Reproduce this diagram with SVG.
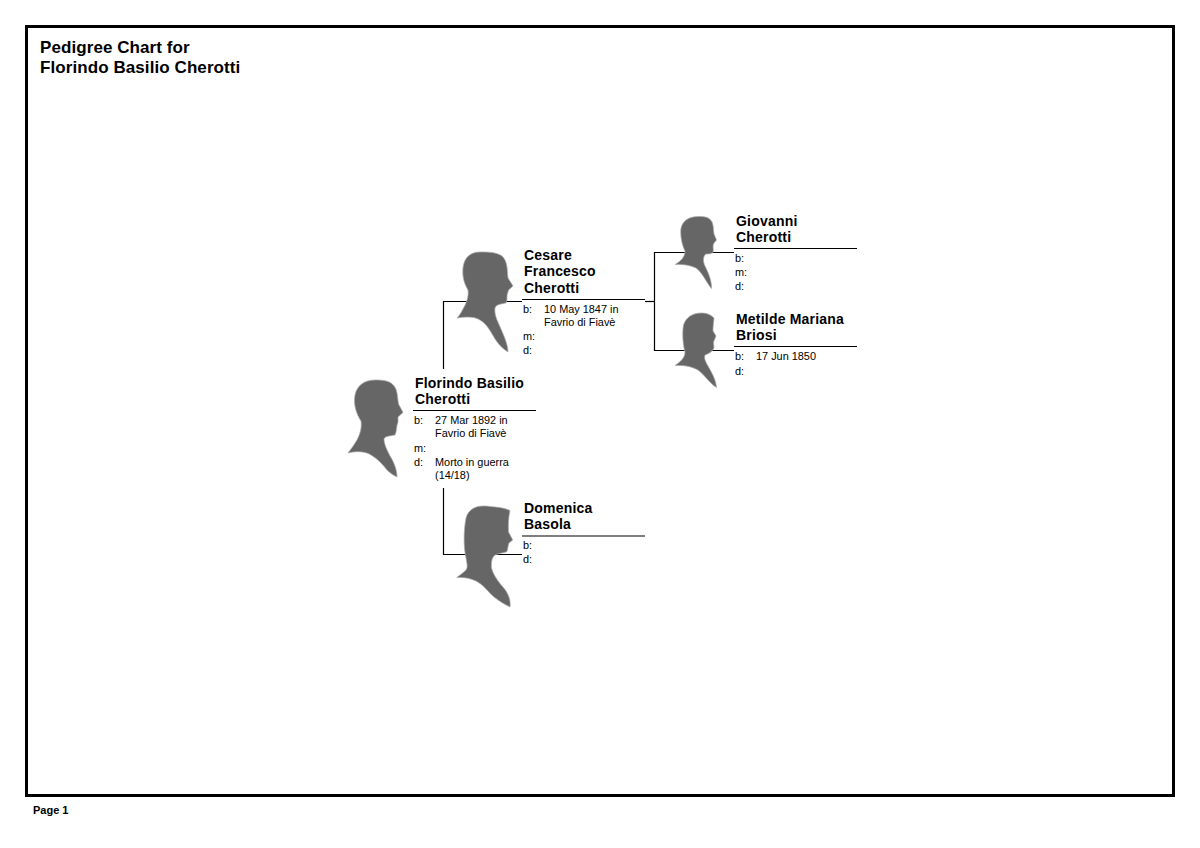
<svg xmlns="http://www.w3.org/2000/svg" width="1200" height="848" viewBox="0 0 1200 848">
<style>
text{font-family:"Liberation Sans",Arial,sans-serif;fill:#000}
.t{font-size:17px;font-weight:bold;letter-spacing:.08px}
.n{font-size:14px;font-weight:bold;letter-spacing:.2px}
.d{font-size:10.9px}
.f{font-size:11px;font-weight:bold}
.s{fill:#666;stroke:#aaa;stroke-width:.7;stroke-linejoin:round}
.c{fill:none;stroke:#000;stroke-width:1.2}
</style>
<rect id="frame" x="26.5" y="26.500" width="1147" height="769" fill="#fff" stroke="#000" stroke-width="3"/>
<g id="title"><text class="t" x="40" y="53">Pedigree Chart for</text><text class="t" x="40" y="73">Florindo Basilio Cherotti</text></g>
<g id="connectors" class="c">
<path d="M443.500 369V301.500H522"/>
<path d="M443.500 488V554.500H522"/>
<path d="M645 301.500H654.500"/>
<path d="M734 252.500H654.500V350.500H734"/>
</g>
<g id="florindo">
<path class="s" d="M375 380C365 380 357 385 355 395C353 405 357 415 361 421C362 428 360 434 357 440C354 445 351 449 348 453C356 451 365 451 371 455C378 459 383 465 387 470C390 473 393 475 397 477C397 470 394 462 390 456C387 450 384 444 384 439C385 436 390 436 395 435C397 431 396 427 398 422L398 417L403 412.500L398.500 404C397 395 398 388 391 383C386 380 380 380 375 380Z"/>
<path class="c" d="M413 410.500H536"/>
<text class="n" x="415" y="388">Florindo Basilio</text><text class="n" x="415" y="404">Cherotti</text>
<text class="d" x="414" y="424">b:</text><text class="d" x="435" y="424">27 Mar 1892 in</text><text class="d" x="435" y="437">Favrio di Fiavè</text>
<text class="d" x="414" y="452">m:</text>
<text class="d" x="414" y="466">d:</text><text class="d" x="435" y="466">Morto in guerra</text><text class="d" x="435" y="479">(14/18)</text>
</g>
<g id="cesare">
<path class="s" d="M480 252C470 252 464 258 463 268C462 278 465 285 468 290C469 297 466 304 463 309C461 313 459 316 457 318C465 317 473 316 480 320C487 324 491 332 495 339C499 345 503 349 508 352C508 345 504 336 501 329C498 322 494 315 495 308C496 304 502 304 506 303C508 299 506 296 508 292L508.500 290L513 286L508 278C507 270 508 262 502 256C496 252 488 252 480 252Z"/>
<path class="c" d="M522 299.500H645"/>
<text class="n" x="524" y="260">Cesare</text><text class="n" x="524" y="276">Francesco</text><text class="n" x="524" y="293">Cherotti</text>
<text class="d" x="523" y="313">b:</text><text class="d" x="544" y="313">10 May 1847 in</text><text class="d" x="544" y="326">Favrio di Fiavè</text>
<text class="d" x="523" y="340">m:</text>
<text class="d" x="523" y="354">d:</text>
</g>
<g id="domenica">
<path class="s" d="M483 506C475 506 468 510 466 518C464 528 463 545 466 558C467 564 468 567 466 570C463 573 460 575 456.700 577.500C463 577 470 578 476 581C484 585 488 592 494 597C499 601 504 604 510 607C511 600 508 592 502 586C497 580 493 574 491.500 568C491 562 492 557 495 555C500 553 504 553 507 551.500C508 548 508 545 509 543L512.700 540L508.500 532C508 522 509 515 510 510.500C505 508 497 507 490 506.500C488 506 485 506 483 506Z"/>
<path class="c" d="M522 536H645"/>
<text class="n" x="524" y="513">Domenica</text><text class="n" x="524" y="529">Basola</text>
<text class="d" x="523" y="549">b:</text>
<text class="d" x="523" y="563">d:</text>
</g>
<g id="giovanni">
<path class="s" d="M698 216.500C690 216.500 683 220 681 228C680 236 682 245 685 251C685 257 681 261 675 264.500C682 264 690 265 696 268C702 272 706 282 711.500 288.500C712 281 708 272 705 266C702 260 704 255 706 254C709 254 711 254 713 252.500C714 249 712 246 714 243L716.500 240L714 234C713 228 714 222 709 218.500C706 216.500 702 216.500 698 216.500Z"/>
<path class="c" d="M734 248.500H857"/>
<text class="n" x="736" y="226">Giovanni</text><text class="n" x="736" y="242">Cherotti</text>
<text class="d" x="735" y="262">b:</text>
<text class="d" x="735" y="276">m:</text>
<text class="d" x="735" y="290">d:</text>
</g>
<g id="metilde">
<path class="s" d="M701 313C693 313 686 317 683.500 325C682 333 683 345 685 352C685 358 680 362 675 365.500C683 365 691 366 698 370C705 375 709 383 716.500 387.500C716 380 712 373 708 366C705 361 704 358 705 355C708 354 712 352 714 348L713.500 342L716 336L713 331C713 325 714 320 714 318C710 314 706 313 701 313Z"/>
<path class="c" d="M734 346.500H857"/>
<text class="n" x="736" y="324">Metilde Mariana</text><text class="n" x="736" y="340">Briosi</text>
<text class="d" x="735" y="360">b:</text><text class="d" x="756" y="360">17 Jun 1850</text>
<text class="d" x="735" y="375">d:</text>
</g>
<text id="footer" class="f" x="33" y="814">Page 1</text>
</svg>
